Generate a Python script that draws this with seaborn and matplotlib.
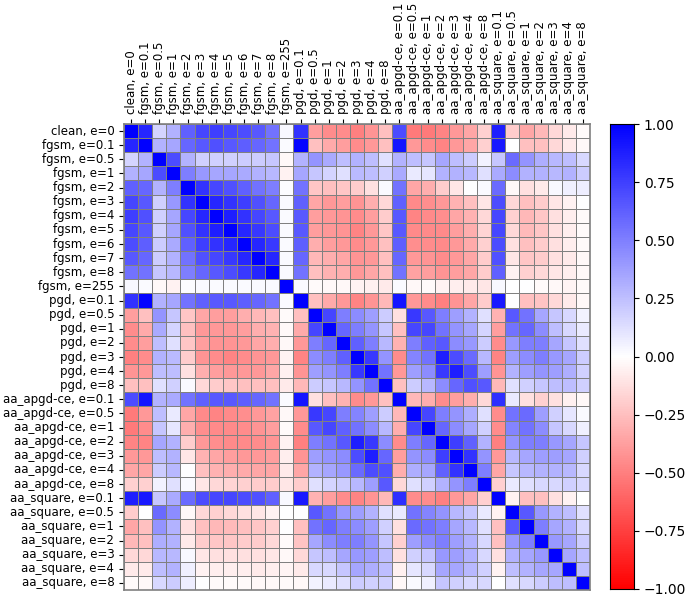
import matplotlib
matplotlib.use("Agg")
import matplotlib.pyplot as plt
import seaborn as sns
import numpy as np
import pandas as pd

labels = ["clean, e=0",
          "fgsm, e=0.1", "fgsm, e=0.5", "fgsm, e=1", "fgsm, e=2", "fgsm, e=3", "fgsm, e=4",
          "fgsm, e=5", "fgsm, e=6", "fgsm, e=7", "fgsm, e=8", "fgsm, e=255",
          "pgd, e=0.1", "pgd, e=0.5", "pgd, e=1", "pgd, e=2", "pgd, e=3", "pgd, e=4", "pgd, e=8",
          "aa_apgd-ce, e=0.1", "aa_apgd-ce, e=0.5", "aa_apgd-ce, e=1", "aa_apgd-ce, e=2",
          "aa_apgd-ce, e=3", "aa_apgd-ce, e=4", "aa_apgd-ce, e=8",
          "aa_square, e=0.1", "aa_square, e=0.5", "aa_square, e=1", "aa_square, e=2",
          "aa_square, e=3", "aa_square, e=4", "aa_square, e=8"]

# upper triangle of the correlation matrix, row i holds columns i..32
upper = [
    [1, 0.85, 0.17, 0.3, 0.62, 0.72, 0.75, 0.72, 0.7, 0.65, 0.55, 0.03, 0.8, -0.38, -0.45, -0.45, -0.5, -0.42, -0.25, 0.7, -0.52, -0.52, -0.48, -0.4, -0.35, -0.18, 0.88, -0.2, -0.35, -0.28, -0.15, -0.08, -0.02],
    [1, 0.3, 0.35, 0.6, 0.65, 0.68, 0.65, 0.63, 0.6, 0.55, 0.02, 0.98, -0.25, -0.33, -0.38, -0.45, -0.4, -0.25, 0.92, -0.4, -0.45, -0.48, -0.4, -0.35, -0.18, 0.9, 0.0, -0.25, -0.25, -0.15, -0.08, -0.03],
    [1, 0.7, 0.3, 0.18, 0.18, 0.18, 0.2, 0.2, 0.22, -0.03, 0.3, 0.42, 0.33, 0.25, 0.3, 0.25, 0.12, 0.3, 0.25, 0.22, 0.35, 0.25, 0.2, 0.05, 0.22, 0.58, 0.42, 0.32, 0.28, 0.25, 0.15],
    [1, 0.5, 0.4, 0.35, 0.35, 0.33, 0.3, 0.28, -0.05, 0.35, 0.22, 0.17, 0.12, 0.27, 0.25, 0.18, 0.33, 0.08, 0.1, 0.3, 0.3, 0.28, 0.12, 0.33, 0.45, 0.3, 0.3, 0.28, 0.3, 0.2],
    [1, 0.8, 0.72, 0.68, 0.62, 0.55, 0.5, 0.01, 0.55, -0.22, -0.25, -0.22, -0.2, -0.12, 0.02, 0.55, -0.35, -0.32, -0.2, -0.1, 0.0, 0.02, 0.58, -0.03, -0.12, -0.08, 0.03, 0.06, 0.07],
    [1, 0.85, 0.8, 0.75, 0.68, 0.6, 0.02, 0.62, -0.35, -0.4, -0.38, -0.42, -0.32, -0.15, 0.62, -0.46, -0.44, -0.4, -0.3, -0.25, -0.1, 0.7, -0.15, -0.25, -0.2, -0.1, -0.05, 0.0],
    [1, 0.88, 0.8, 0.72, 0.65, 0.02, 0.65, -0.38, -0.4, -0.42, -0.45, -0.38, -0.2, 0.65, -0.48, -0.46, -0.44, -0.35, -0.3, -0.15, 0.72, -0.18, -0.28, -0.22, -0.12, -0.07, -0.02],
    [1, 0.85, 0.78, 0.7, 0.02, 0.65, -0.38, -0.4, -0.42, -0.48, -0.4, -0.22, 0.65, -0.46, -0.46, -0.46, -0.38, -0.32, -0.17, 0.72, -0.15, -0.27, -0.22, -0.12, -0.07, -0.02],
    [1, 0.85, 0.78, 0.02, 0.63, -0.32, -0.38, -0.4, -0.45, -0.4, -0.25, 0.63, -0.44, -0.45, -0.46, -0.4, -0.33, -0.18, 0.7, -0.12, -0.25, -0.2, -0.12, -0.07, -0.02],
    [1, 0.85, 0.02, 0.6, -0.28, -0.32, -0.35, -0.42, -0.4, -0.25, 0.6, -0.4, -0.42, -0.45, -0.4, -0.35, -0.2, 0.68, -0.1, -0.22, -0.2, -0.12, -0.08, -0.03],
    [1, 0.02, 0.55, -0.25, -0.3, -0.32, -0.4, -0.35, -0.25, 0.55, -0.36, -0.38, -0.42, -0.38, -0.35, -0.2, 0.62, -0.05, -0.18, -0.15, -0.1, -0.07, -0.03],
    [1, 0.02, -0.02, -0.03, -0.03, -0.05, -0.06, -0.08, 0.02, -0.03, -0.02, -0.05, -0.07, -0.08, -0.1, 0.03, 0.0, 0.0, -0.02, -0.03, -0.04, -0.02],
    [1, -0.25, -0.33, -0.4, -0.48, -0.42, -0.28, 0.92, -0.4, -0.45, -0.5, -0.42, -0.35, -0.2, 0.9, 0.0, -0.25, -0.23, -0.15, -0.08, -0.03],
    [1, 0.72, 0.5, 0.45, 0.38, 0.2, -0.12, 0.78, 0.65, 0.5, 0.38, 0.3, 0.12, -0.3, 0.65, 0.55, 0.35, 0.22, 0.15, 0.05],
    [1, 0.6, 0.5, 0.42, 0.22, -0.25, 0.72, 0.72, 0.55, 0.42, 0.35, 0.17, -0.38, 0.55, 0.6, 0.45, 0.25, 0.15, 0.08],
    [1, 0.62, 0.5, 0.28, -0.3, 0.5, 0.62, 0.65, 0.45, 0.4, 0.2, -0.45, 0.4, 0.5, 0.5, 0.35, 0.22, 0.12],
    [1, 0.78, 0.42, -0.45, 0.48, 0.55, 0.88, 0.7, 0.58, 0.28, -0.48, 0.38, 0.45, 0.5, 0.4, 0.35, 0.2],
    [1, 0.55, -0.4, 0.38, 0.45, 0.78, 0.88, 0.7, 0.38, -0.42, 0.3, 0.38, 0.42, 0.38, 0.32, 0.18],
    [1, -0.25, 0.2, 0.28, 0.45, 0.6, 0.68, 0.65, -0.28, 0.12, 0.18, 0.22, 0.25, 0.25, 0.18],
    [1, -0.28, -0.32, -0.45, -0.38, -0.32, -0.15, 0.82, 0.08, -0.12, -0.18, -0.12, -0.06, -0.03],
    [1, 0.72, 0.5, 0.42, 0.32, 0.12, -0.45, 0.55, 0.58, 0.38, 0.18, 0.1, 0.02],
    [1, 0.6, 0.45, 0.35, 0.18, -0.45, 0.48, 0.55, 0.45, 0.22, 0.15, 0.06],
    [1, 0.75, 0.62, 0.3, -0.5, 0.42, 0.5, 0.5, 0.4, 0.35, 0.22],
    [1, 0.8, 0.42, -0.4, 0.28, 0.35, 0.38, 0.38, 0.35, 0.18],
    [1, 0.5, -0.35, 0.22, 0.28, 0.3, 0.3, 0.28, 0.15],
    [1, -0.18, 0.08, 0.12, 0.15, 0.15, 0.18, 0.15],
    [1, -0.05, -0.25, -0.25, -0.12, -0.05, 0.0],
    [1, 0.65, 0.4, 0.3, 0.25, 0.12],
    [1, 0.5, 0.35, 0.3, 0.15],
    [1, 0.4, 0.35, 0.2],
    [1, 0.35, 0.25],
    [1, 0.25],
    [1],
]

n = len(labels)
corr = np.zeros((n, n))
for i, row in enumerate(upper):
    corr[i, i:] = row
    corr[i:, i] = row
df = pd.DataFrame(corr, index=labels, columns=labels)

fig = plt.figure(figsize=(6.85, 6.05), dpi=100)
ax = fig.add_axes([124/685, 1 - 590/605, 466/685, 466/605])
cax = fig.add_axes([610/685, 1 - 589/605, 24/685, 465/605])

sns.heatmap(df, ax=ax, cbar_ax=cax, cmap="bwr_r", vmin=-1, vmax=1,
            linewidths=0.6, linecolor="gray", square=False,
            xticklabels=True, yticklabels=True)
ax.xaxis.tick_top()
ax.tick_params(axis="x", rotation=90, labelsize=8.5)
ax.tick_params(axis="y", rotation=0, labelsize=8.5)
for s in ax.spines.values():
    s.set_visible(True)
    s.set_color("gray")
    s.set_linewidth(1.2)
ticks = [-1, -0.75, -0.5, -0.25, 0, 0.25, 0.5, 0.75, 1]
cax.tick_params(labelsize=10)
cax.set_yticks(ticks)
cax.set_yticklabels([f"{v:.2f}".replace("-", "\u2212") for v in ticks])
for s in cax.spines.values():
    s.set_visible(True)
    s.set_color("black")

fig.savefig("out.png", dpi=100)
